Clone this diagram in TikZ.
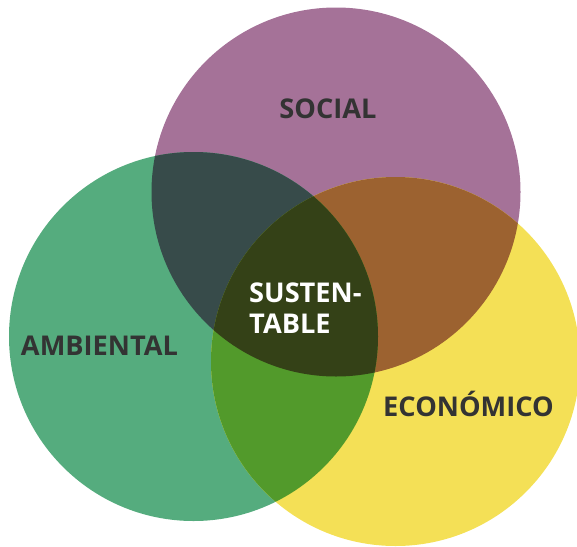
\documentclass[tikz,border=0pt]{standalone}
\usepackage{fontspec}
\setmainfont{Open Sans}
\definecolor{cSoc}{HTML}{A57298}
\definecolor{cAmb}{HTML}{55AC7E}
\definecolor{cEco}{HTML}{F4E056}
\definecolor{cSA}{HTML}{374B4A}
\definecolor{cSE}{HTML}{9C6230}
\definecolor{cAE}{HTML}{529A2B}
\definecolor{cAll}{HTML}{344117}
\definecolor{cTxt}{HTML}{333333}
\begin{document}
\begin{tikzpicture}[x=1pt,y=-1pt,
  lbl/.style={font=\fontsize{27.2}{32}\selectfont\bfseries, text=cTxt, inner sep=0pt}]
\useasboundingbox (0,0) rectangle (577,546);
\clip (0,0) rectangle (577,546);
\coordinate (S) at (336,192);
\coordinate (A) at (193.5,336.5);
\coordinate (E) at (395.5,361.5);
\def\R{184.5}
\fill[cSoc] (S) circle (\R);
\fill[cAmb] (A) circle (\R);
\fill[cEco] (E) circle (\R);
\begin{scope}
  \clip (S) circle (\R);
  \fill[cSA] (A) circle (\R);
  \fill[cSE] (E) circle (\R);
\end{scope}
\begin{scope}
  \clip (A) circle (\R);
  \fill[cAE] (E) circle (\R);
\end{scope}
\begin{scope}
  \clip (S) circle (\R);
  \clip (A) circle (\R);
  \fill[cAll] (E) circle (\R);
\end{scope}
\node[lbl, anchor=base] (soc) at (328,118) {SOCIAL};
\node[lbl, anchor=base] (amb) at (99.5,355) {AMBIENTAL};
\node[lbl, anchor=base] (eco) at (468.5,416) {ECONÓMICO};
\node[lbl, text=white, anchor=base west] (sus1) at (249,302) {SUSTEN-};
\node[lbl, text=white, anchor=base west] (sus2) at (249,333) {TABLE};
\end{tikzpicture}
\end{document}
